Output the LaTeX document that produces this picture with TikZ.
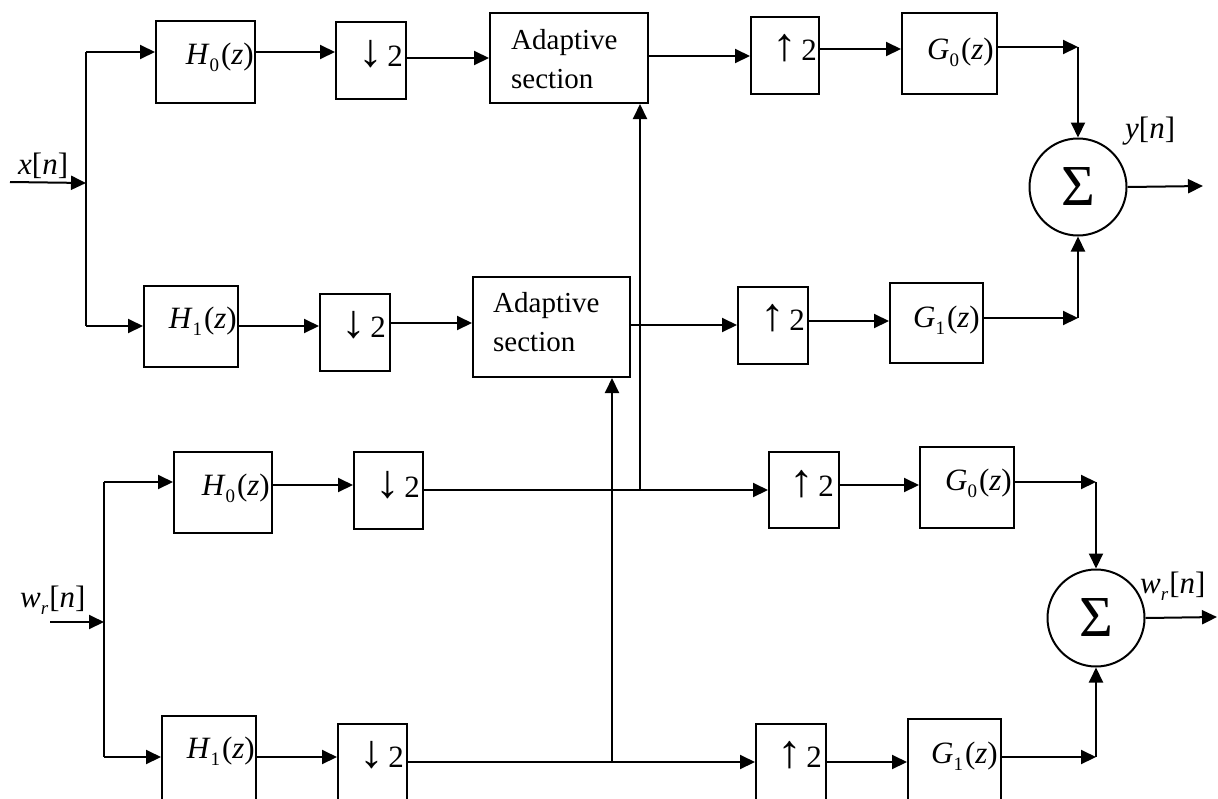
\documentclass[tikz,border=0pt]{standalone}
\usepackage{fontspec}
\usepackage{graphicx}
\setmainfont{Liberation Serif}
\usetikzlibrary{arrows.meta}
\newcommand\fnl[2]{\textit{#1}\raisebox{-0.24em}{\fontsize{19}{19}\selectfont #2}\kern2pt(\textit{z})}
\newcommand\wrn{\textit{w}\raisebox{-0.24em}{\fontsize{19}{19}\selectfont\textit{r}}\kern1pt[\textit{n}]}
\newcommand\dnarr{\scalebox{1.6}[1.5]{↓}}
\newcommand\uparr{\scalebox{1.6}[1.5]{↑}}
\newcommand\mybox[5]{\node[box,minimum width=#4pt,minimum height=#5pt] (#1) at (#2,#3) {};}
\begin{document}
\begin{tikzpicture}[x=1pt,y=-1pt,
  box/.style={draw,line width=2pt,inner sep=0pt,anchor=north west},
  sumc/.style={draw,circle,line width=2pt,inner sep=0pt,minimum size=97pt,font=\fontsize{58}{60}\selectfont},
  arr/.style={line width=2pt,-{Triangle[length=15pt,width=14pt]}},
  ln/.style={line width=2pt},
  lab/.style={inner sep=0pt,anchor=base east,font=\fontsize{31}{36}\selectfont},
  labw/.style={inner sep=0pt,anchor=base west,font=\fontsize{31}{36}\selectfont},
  adapt/.style={inner sep=0pt,anchor=west,align=left,font=\fontsize{29}{39}\selectfont}]
\useasboundingbox (0,0) rectangle (1218,798);
\clip (0,0) rectangle (1218,798);
\fill[white] (0,0) rectangle (1218,798);

% ---- boxes
\mybox{h0a}{155}{20}{99}{82}
\mybox{d1a}{335}{21}{70}{77}
\mybox{ad1}{489}{12}{158}{90}
\mybox{u1a}{750}{16}{68}{77}
\mybox{g0a}{901}{12}{95}{81}
\node[sumc] (s1) at (1078,187) {Σ};

\mybox{h1a}{143}{285}{94}{81}
\mybox{d2a}{319}{293}{70}{77}
\mybox{ad2}{472}{276}{157}{100}
\mybox{u2a}{737}{286}{70}{77}
\mybox{g1a}{889}{282}{93}{80}

\mybox{h0b}{173}{451}{98}{81}
\mybox{d1b}{353}{451}{69}{77}
\mybox{u1b}{768}{451}{70}{76}
\mybox{g0b}{919}{446}{94}{81}
\node[sumc] (s2) at (1096,618) {Σ};

\mybox{h1b}{161}{715}{94}{90}
\mybox{d2b}{337}{723}{69}{90}
\mybox{u2b}{755}{723}{70}{90}
\mybox{g1b}{907}{718}{93}{90}

% ---- labels
\node[lab] (lh0a) at (254,64) {\fnl{H}{0}};
\node[lab] (ld1a) at (403,66) {\dnarr\kern4pt2};
\node[adapt] (lad1) at (511,59) {Adaptive\\section};
\node[lab] (lu1a) at (817,60) {\uparr\kern4pt2};
\node[lab] (lg0a) at (994,59) {\fnl{G}{0}};
\node[labw] (lyn) at (1125,138) {\textit{y}[\textit{n}]};
\node[labw] (lxn) at (18,174) {\textit{x}[\textit{n}]};

\node[lab] (lh1a) at (237,328) {\fnl{H}{1}};
\node[lab] (ld2a) at (386,337) {\dnarr\kern4pt2};
\node[adapt] (lad2) at (493,322) {Adaptive\\section};
\node[lab] (lu2a) at (805,330) {\uparr\kern4pt2};
\node[lab] (lg1a) at (980,327) {\fnl{G}{1}};

\node[lab] (lh0b) at (270,495) {\fnl{H}{0}};
\node[lab] (ld1b) at (420,497) {\dnarr\kern4pt2};
\node[lab] (lu1b) at (834,496) {\uparr\kern4pt2};
\node[lab] (lg0b) at (1012,490) {\fnl{G}{0}};
\node[labw] (lwl) at (20,607) {\wrn};
\node[labw] (lwr) at (1140,593) {\wrn};

\node[lab] (lh1b) at (255,758) {\fnl{H}{1}};
\node[lab] (ld2b) at (404,767) {\dnarr\kern4pt2};
\node[lab] (lu2b) at (822,767) {\uparr\kern4pt2};
\node[lab] (lg1b) at (998,763) {\fnl{G}{1}};

% ---- coordinates
\coordinate (xin) at (10,182);
\coordinate (ja) at (86,183);
\coordinate (ja1) at (86,52);
\coordinate (ja2) at (86,326);
\coordinate (c1) at (1078,47);
\coordinate (c2) at (1078,318);
\coordinate (yout) at (1203,186);
\coordinate (win) at (50,622);
\coordinate (jb) at (104,622);
\coordinate (jb1) at (104,482);
\coordinate (jb2) at (104,757);
\coordinate (t1) at (640,490);
\coordinate (t2) at (612,762);
\coordinate (c3) at (1096,482);
\coordinate (c4) at (1096,757);
\coordinate (wout) at (1217,617);

% ---- upper bank
\draw[arr] (xin) -- (ja);
\draw[ln] (ja1) -- (ja2);
\draw[arr] (ja1) -- (h0a.west |- ja1);
\draw[arr] (ja2) -- (h1a.west |- ja2);
\draw[arr] (h0a.east |- 0,52) -- (d1a.west |- 0,52);
\draw[arr] (d1a.east |- 0,58) -- (ad1.west |- 0,58);
\draw[arr] (ad1.east |- 0,56) -- (u1a.west |- 0,56);
\draw[arr] (u1a.east |- 0,49) -- (g0a.west |- 0,49);
\draw[arr] (g0a.east |- c1) -- (c1);
\draw[arr] (c1) -- (s1.north);
\draw[arr] (s1.east) -- (yout);

\draw[arr] (h1a.east |- 0,326) -- (d2a.west |- 0,326);
\draw[arr] (d2a.east |- 0,323) -- (ad2.west |- 0,323);
\draw[arr] (ad2.east |- 0,325) -- (u2a.west |- 0,325);
\draw[arr] (u2a.east |- 0,321) -- (g1a.west |- 0,321);
\draw[arr] (g1a.east |- c2) -- (c2);
\draw[arr] (c2) -- (s1.south);

% ---- lower bank
\draw[arr] (win) -- (jb);
\draw[ln] (jb1) -- (jb2);
\draw[arr] (jb1) -- (h0b.west |- jb1);
\draw[arr] (jb2) -- (h1b.west |- jb2);
\draw[arr] (h0b.east |- 0,485) -- (d1b.west |- 0,485);
\draw[arr] (d1b.east |- 0,490) -- (u1b.west |- 0,490);
\draw[arr] (t1) -- (t1 |- ad1.south);
\draw[arr] (u1b.east |- 0,485) -- (g0b.west |- 0,485);
\draw[arr] (g0b.east |- c3) -- (c3);
\draw[arr] (c3) -- (s2.north);
\draw[arr] (s2.east) -- (wout);

\draw[arr] (h1b.east |- 0,757) -- (d2b.west |- 0,757);
\draw[arr] (d2b.east |- 0,762) -- (u2b.west |- 0,762);
\draw[arr] (t2) -- (t2 |- ad2.south);
\draw[arr] (u2b.east |- 0,762) -- (g1b.west |- 0,762);
\draw[arr] (g1b.east |- c4) -- (c4);
\draw[arr] (c4) -- (s2.south);
\end{tikzpicture}
\end{document}
